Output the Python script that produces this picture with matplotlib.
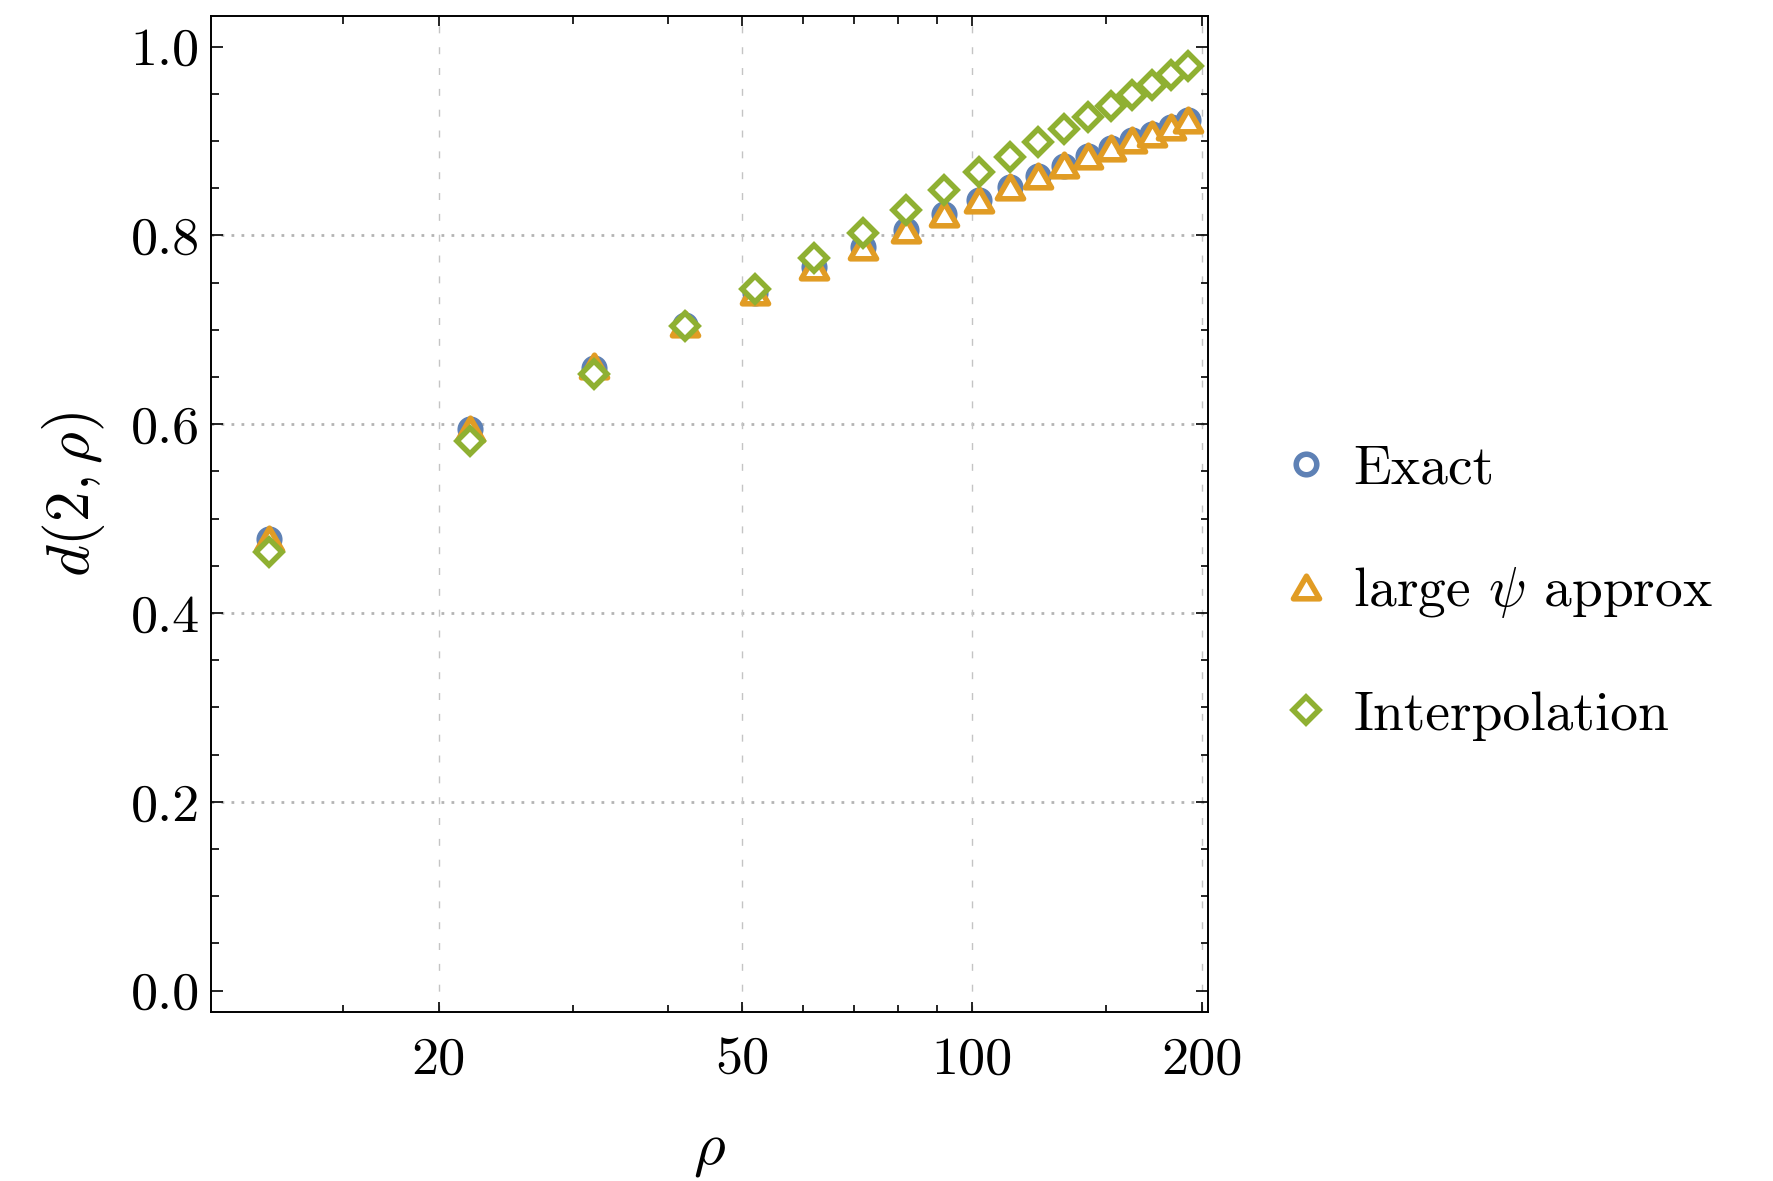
import numpy as np
import matplotlib
matplotlib.use("Agg")
import matplotlib.pyplot as plt
from matplotlib.path import Path
from matplotlib.ticker import FixedLocator, FixedFormatter, MultipleLocator, NullFormatter

plt.rcParams['font.family'] = 'serif'
plt.rcParams['font.serif'] = ['cmr10', 'DejaVu Serif']
plt.rcParams['mathtext.fontset'] = 'cm'
plt.rcParams['axes.unicode_minus'] = False

# data
rho = [12, 22, 32, 42, 52, 62, 72, 82, 92, 102, 112, 122, 132, 142, 152, 162, 172, 182, 192]
exact = [0.478, 0.595, 0.660, 0.705, 0.739, 0.767, 0.788, 0.806, 0.823, 0.838, 0.851,
         0.863, 0.874, 0.884, 0.893, 0.901, 0.908, 0.915, 0.922]
approx = [0.478, 0.595, 0.662, 0.706, 0.740, 0.767, 0.788, 0.806, 0.823, 0.838, 0.851,
          0.863, 0.875, 0.884, 0.893, 0.901, 0.908, 0.915, 0.922]
interp = [0.465, 0.582, 0.653, 0.704, 0.743, 0.776, 0.803, 0.827, 0.848, 0.867, 0.883,
          0.899, 0.9125, 0.925, 0.937, 0.949, 0.959, 0.970, 0.9795]

x_major = [20, 50, 100, 200]
x_minor = [15, 30, 40, 60, 70, 80, 90, 150]
y_major = [0.0, 0.2, 0.4, 0.6, 0.8, 1.0]
y_grid = [0.2, 0.4, 0.6, 0.8]

blue = '#5E81B5'
orange = '#E19C24'
green = '#8FB032'

# equilateral triangle, centred on its bounding box
tri = Path([(0, 0.433), (-0.5, -0.433), (0.5, -0.433), (0, 0.433)],
           [Path.MOVETO, Path.LINETO, Path.LINETO, Path.CLOSEPOLY])

fig = plt.figure(figsize=(1773 / 200, 1181 / 200), dpi=200)
ax = fig.add_axes([211 / 1773, 169 / 1181, 997 / 1773, 996 / 1181])
ax.set_xscale('log')
ax.set_xlim(10.06, 203.8)
ax.set_ylim(-0.0226, 1.0325)

for yv in y_grid:
    ax.axhline(yv, color='#b4b4b4', lw=1.0, ls=(0, (1, 2.6)), zorder=0)
for xv in x_major:
    ax.axvline(xv, color='#c4c4c4', lw=0.5, ls=(0, (5, 10)), zorder=0)

mew = 2.0
ax.plot(rho, exact, ls='none', marker='o', ms=7.4, mfc='white', mec=blue, mew=mew,
        label='Exact', zorder=3)
ax.plot(rho, approx, ls='none', marker=tri, ms=9.4, mfc='white', mec=orange, mew=mew,
        label=r'large $\psi$ approx', zorder=4)
ax.plot(rho, interp, ls='none', marker='D', ms=6.8, mfc='white', mec=green, mew=mew,
        label='Interpolation', zorder=5)

ax.xaxis.set_major_locator(FixedLocator(x_major))
ax.xaxis.set_major_formatter(FixedFormatter([str(v) for v in x_major]))
ax.xaxis.set_minor_locator(FixedLocator(x_minor))
ax.xaxis.set_minor_formatter(NullFormatter())
ax.yaxis.set_major_locator(FixedLocator(y_major))
ax.yaxis.set_major_formatter(FixedFormatter(['%.1f' % v for v in y_major]))
ax.yaxis.set_minor_locator(MultipleLocator(0.05))

ax.tick_params(axis='both', which='both', direction='in', top=True, right=True,
               width=0.6, labelsize=19.5)
ax.tick_params(axis='x', which='major', length=3.6, pad=9)
ax.tick_params(axis='x', which='minor', length=2.7)
ax.tick_params(axis='y', which='major', length=4.4, pad=4)
ax.tick_params(axis='y', which='minor', length=2.7)
for s in ax.spines.values():
    s.set_linewidth(0.7)

ax.set_xlabel(r'$\rho$', fontsize=22)
ax.xaxis.set_label_coords(0.5, -0.14)
ax.set_ylabel(r'$d(2,\rho)$', fontsize=22)
ax.yaxis.set_label_coords(-0.138, 0.52)
ax.xaxis.label.set_va('center')
ax.yaxis.label.set_va('center')

ax.legend(loc='center left', bbox_to_anchor=(1284 / 1773, 0.498),
          bbox_transform=fig.transFigure, frameon=False, fontsize=20,
          borderpad=0, borderaxespad=0, handlelength=0.8, handletextpad=0.45,
          labelspacing=1.27)

fig.savefig('out.png', dpi=200)
